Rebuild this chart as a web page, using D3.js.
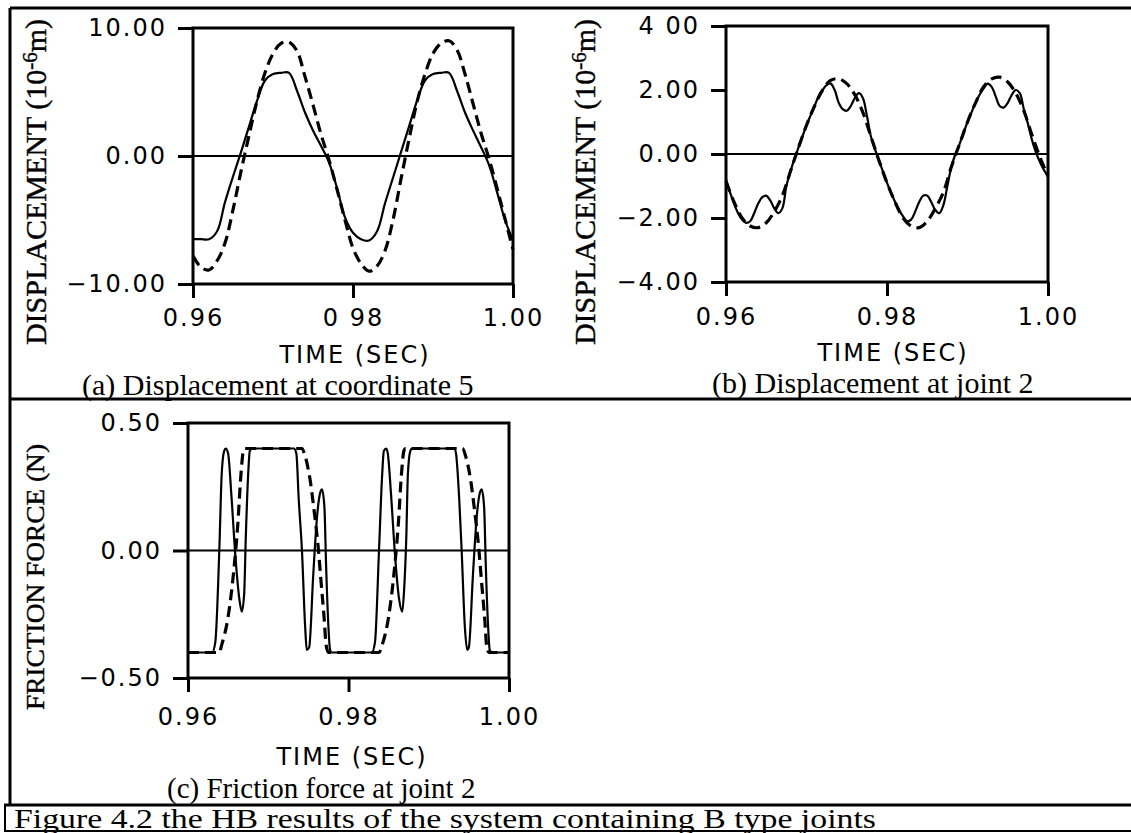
<!DOCTYPE html>
<html>
<head>
<meta charset="utf-8">
<script src="https://cdn.jsdelivr.net/npm/d3@7"></script>
<style>
  body { margin: 0; background: #fff; }
  svg { display: block; }
</style>
</head>
<body>
<svg id="fig" width="1131" height="833"></svg>
<script>
// ---- (a) displacement at coordinate 5, 10^-6 m ----
const timeA = [0.960,0.961,0.962,0.963,0.964,0.965,0.966,0.967,0.968,0.969,
               0.970,0.971,0.972,0.973,0.974,0.975,0.976,0.977,0.978,0.979,
               0.980,0.981,0.982,0.983,0.984,0.985,0.986,0.987,0.988,0.989,
               0.990,0.991,0.992,0.993,0.994,0.995,0.996,0.997,0.998,0.999,1.000];
const dispA_solid = [-6.5,-6.5,-6.5,-5.9,-3.6,-1.6,0.3,2.3,4.3,5.9,
                     6.4,6.5,6.5,5.1,3.4,2.0,0.8,-0.5,-2.5,-4.8,
                     -6.0,-6.5,-6.6,-5.9,-3.7,-1.7,0.3,2.3,4.3,5.9,
                     6.4,6.5,6.5,5.1,3.4,2.0,0.7,-0.7,-2.8,-5.0,-6.6];
const dispA_dashed = [-7.8,-8.7,-8.9,-8.2,-6.8,-4.2,-1.2,1.6,4.3,6.5,
                      8.0,8.8,8.9,8.2,6.2,4.0,1.7,-0.3,-2.6,-5.0,
                      -7.2,-8.4,-9.0,-8.6,-7.4,-5.0,-1.8,1.3,4.2,6.4,
                      8.0,8.8,9.0,8.3,6.4,4.1,1.8,-0.2,-2.5,-4.9,-7.3];
const yTicksA = [10, 0, -10];
const yLabelsA = ["10.00", "0.00", "\u221210.00"];

// ---- (b) displacement at joint 2, 10^-6 m ----
const timeB_dashed = timeA;
const dispB_dashed = [-0.85,-1.5,-2.0,-2.25,-2.3,-2.15,-1.8,-1.3,-0.55,0.2,
                      0.9,1.5,2.0,2.3,2.35,2.2,1.85,1.3,0.55,-0.2,
                      -0.9,-1.5,-2.0,-2.25,-2.3,-2.1,-1.7,-1.2,-0.4,0.3,
                      1.0,1.6,2.1,2.35,2.4,2.25,1.9,1.35,0.6,-0.1,-0.7];
const timeB_solid = [0.9600,0.9605,0.9610,0.9615,0.9620,0.9625,0.9630,0.9635,0.9640,0.9645,
                     0.9650,0.9655,0.9660,0.9665,0.9670,0.9675,0.9680,0.9685,0.9690,0.9695,
                     0.9700,0.9705,0.9710,0.9715,0.9720,0.9725,0.9730,0.9735,0.9740,0.9745,
                     0.9750,0.9755,0.9760,0.9765,0.9770,0.9775,0.9780,0.9785,0.9790,0.9795,
                     0.9800,0.9805,0.9810,0.9815,0.9820,0.9825,0.9830,0.9835,0.9840,0.9845,
                     0.9850,0.9855,0.9860,0.9865,0.9870,0.9875,0.9880,0.9885,0.9890,0.9895,
                     0.9900,0.9905,0.9910,0.9915,0.9920,0.9925,0.9930,0.9935,0.9940,0.9945,
                     0.9950,0.9955,0.9960,0.9965,0.9970,0.9975,0.9980,0.9985,0.9990,0.9995,1.0000];
const dispB_solid = [-0.8,-1.2,-1.55,-1.85,-2.05,-2.15,-2.1,-1.85,-1.55,-1.35,
                     -1.3,-1.45,-1.7,-1.85,-1.7,-1.0,-0.55,-0.15,0.2,0.55,
                     0.9,1.2,1.5,1.8,2.0,2.15,2.2,2.0,1.6,1.4,
                     1.35,1.5,1.75,1.9,1.75,1.2,0.55,0.15,-0.2,-0.55,
                     -0.9,-1.2,-1.5,-1.75,-1.95,-2.1,-2.05,-1.8,-1.5,-1.3,
                     -1.3,-1.5,-1.75,-1.85,-1.6,-1.0,-0.4,0.0,0.3,0.65,
                     1.0,1.3,1.6,1.85,2.05,2.2,2.1,1.8,1.5,1.45,
                     1.6,1.85,2.0,1.9,1.4,0.95,0.45,0.05,-0.25,-0.5,-0.7];
const yTicksB = [4, 2, 0, -2, -4];
const yLabelsB = ["4 00", "2.00", "0.00", "\u22122.00", "\u22124.00"];

// ---- (c) friction force at joint 2, N ----
const timeC_solid = [0.9600,0.9630,0.9634,0.9639,0.9642,0.9645,0.9647,0.9650,0.9654,0.9659,
                     0.9664,0.9667,0.9670,0.9672,0.9675,0.9677,0.9680,0.9732,0.9735,0.9738,
                     0.9742,0.9746,0.9748,0.9751,0.9756,0.9761,0.9765,0.9767,0.9770,0.9772,
                     0.9775,0.9777,0.9779,0.9829,0.9833,0.9838,0.9842,0.9844,0.9847,0.9849,
                     0.9853,0.9858,0.9863,0.9867,0.9869,0.9872,0.9874,0.9877,0.9879,0.9932,
                     0.9934,0.9938,0.9941,0.9945,0.9948,0.9950,0.9955,0.9960,0.9964,0.9966,
                     0.9969,0.9971,0.9974,0.9976,0.9979,1.0000];
const forceC_solid = [-0.40,-0.40,-0.36,0.00,0.30,0.39,0.40,0.38,0.22,-0.02,
                      -0.19,-0.24,-0.17,0.05,0.30,0.39,0.40,0.40,0.38,0.20,
                      0.00,-0.30,-0.39,-0.38,-0.10,0.14,0.23,0.24,0.17,-0.05,
                      -0.30,-0.39,-0.40,-0.40,-0.36,0.00,0.30,0.39,0.40,0.38,
                      0.22,-0.02,-0.19,-0.24,-0.17,0.05,0.30,0.39,0.40,0.40,
                      0.38,0.20,0.00,-0.30,-0.39,-0.38,-0.10,0.14,0.23,0.24,
                      0.17,-0.05,-0.30,-0.39,-0.40,-0.40];
const timeC_dashed = [0.9600,0.9639,0.9642,0.9650,0.9657,0.9662,0.9666,0.9669,0.9671,0.9742,
                      0.9746,0.9752,0.9757,0.9762,0.9766,0.9770,0.9772,0.9775,0.9838,0.9842,
                      0.9850,0.9857,0.9862,0.9866,0.9869,0.9871,0.9942,0.9946,0.9952,0.9957,
                      0.9962,0.9966,0.9970,0.9972,0.9975,1.0000];
const forceC_dashed = [-0.40,-0.40,-0.37,-0.26,-0.08,0.10,0.30,0.39,0.40,0.40,
                       0.37,0.28,0.16,0.02,-0.13,-0.28,-0.37,-0.40,-0.40,-0.37,
                       -0.26,-0.08,0.10,0.30,0.39,0.40,0.40,0.37,0.28,0.16,
                       0.02,-0.13,-0.28,-0.37,-0.40,-0.40];
const yTicksC = [0.5, 0, -0.5];
const yLabelsC = ["0.50", "0.00", "\u22120.50"];

// ---- shared time axis ----
const xTicks = [0.96, 0.98, 1.00];
const xLabelsA = ["0.96", "0 98", "1.00"];
const xLabelsB = ["0.96", "0.98", "1.00"];
const xLabelsC = ["0.96", "0.98", "1.00"];

const svg = d3.select("#fig");
const SANS = "'DejaVu Sans', sans-serif";
const SERIF = "'Liberation Serif', 'Times New Roman', serif";

// figure frame: outer border and row dividers
const frame = svg.append("g").attr("stroke", "#000").attr("fill", "none");
frame.append("line").attr("x1", 10).attr("x2", 1131).attr("y1", 8).attr("y2", 8).attr("stroke-width", 3);
frame.append("line").attr("x1", 10).attr("x2", 10).attr("y1", 8).attr("y2", 806).attr("stroke-width", 3);
frame.append("line").attr("x1", 9).attr("x2", 1131).attr("y1", 399).attr("y2", 399).attr("stroke-width", 3);
frame.append("line").attr("x1", 4).attr("x2", 1131).attr("y1", 805).attr("y2", 805).attr("stroke-width", 3);
frame.append("line").attr("x1", 5).attr("x2", 5).attr("y1", 805).attr("y2", 832).attr("stroke-width", 2);
frame.append("line").attr("x1", 4).attr("x2", 1131).attr("y1", 831).attr("y2", 831).attr("stroke-width", 2);

function panel(cfg) {
  const x = d3.scaleLinear().domain([0.96, 1.00]).range([cfg.left, cfg.right]);
  const y = d3.scaleLinear().domain(cfg.yDomain).range([cfg.bottom, cfg.top]);
  const g = svg.append("g");

  // y axis ticks and labels
  const ya = g.append("g")
    .attr("transform", `translate(${cfg.left},0)`)
    .call(d3.axisLeft(y).tickValues(cfg.yTicks).tickSize(15).tickPadding(11)
      .tickFormat((d, i) => cfg.yLabels[i]));
  // x axis ticks and labels
  const xa = g.append("g")
    .attr("transform", `translate(0,${cfg.bottom})`)
    .call(d3.axisBottom(x).tickValues(xTicks).tickSize(14).tickPadding(cfg.xPad)
      .tickFormat((d, i) => cfg.xLabels[i]));
  [ya, xa].forEach(a => {
    a.select(".domain").remove();
    a.selectAll(".tick line").attr("stroke", "#000").attr("stroke-width", 3);
    a.selectAll(".tick text")
      .attr("fill", "#000")
      .style("font-family", SANS)
      .style("font-size", "24px")
      .style("letter-spacing", "2px");
  });

  // zero reference line
  g.append("line")
    .attr("x1", cfg.left).attr("x2", cfg.right)
    .attr("y1", y(0)).attr("y2", y(0))
    .attr("stroke", "#000").attr("stroke-width", 2);

  // plot box
  g.append("rect")
    .attr("x", cfg.left).attr("y", cfg.top)
    .attr("width", cfg.right - cfg.left).attr("height", cfg.bottom - cfg.top)
    .attr("fill", "none").attr("stroke", "#000").attr("stroke-width", 3);

  // curves
  const line = d3.line().x(d => x(d[0])).y(d => y(d[1])).curve(cfg.curve);
  g.append("path")
    .datum(d3.zip(cfg.tSolid, cfg.vSolid))
    .attr("d", line)
    .attr("fill", "none").attr("stroke", "#000").attr("stroke-width", 2.2)
    .attr("stroke-linejoin", "round");
  g.append("path")
    .datum(d3.zip(cfg.tDashed, cfg.vDashed))
    .attr("d", line)
    .attr("fill", "none").attr("stroke", "#000").attr("stroke-width", 3.2)
    .attr("stroke-dasharray", "11,6");

  // axis titles
  g.append("text")
    .attr("x", cfg.timeX).attr("y", cfg.timeY)
    .attr("text-anchor", "middle")
    .style("font-family", SANS).style("font-size", "24px").style("letter-spacing", "2px")
    .text("TIME (SEC)");

  const yl = g.append("text")
    .attr("transform", `translate(${cfg.ylabX},${cfg.ylabY}) rotate(-90)`)
    .attr("text-anchor", "middle")
    .style("font-family", SERIF).style("font-size", cfg.ylabSize + "px")
    .attr("stroke", "#000").attr("stroke-width", 0.4);
  cfg.ylab(yl);

  // panel caption
  g.append("text")
    .attr("x", cfg.capX).attr("y", cfg.capY)
    .style("font-family", SERIF).style("font-size", cfg.capSize + "px")
    .text(cfg.caption);
}

function dispLabel(t) {
  t.append("tspan").text("DISPLACEMENT (10");
  t.append("tspan").attr("dy", -9).style("font-size", "21px").text("-6");
  t.append("tspan").attr("dy", 9).text("m)");
}

panel({
  left: 193, right: 513, top: 28, bottom: 284, yDomain: [-10, 10],
  yTicks: yTicksA, yLabels: yLabelsA, xLabels: xLabelsA, xPad: 11,
  tSolid: timeA, vSolid: dispA_solid, tDashed: timeA, vDashed: dispA_dashed,
  curve: d3.curveCatmullRom.alpha(0.5),
  timeX: 355, timeY: 363, ylabX: 46, ylabY: 182, ylabSize: 30, ylab: dispLabel,
  capX: 82, capY: 395, capSize: 30, caption: "(a) Displacement at coordinate 5"
});

panel({
  left: 726, right: 1048, top: 26, bottom: 282, yDomain: [-4, 4],
  yTicks: yTicksB, yLabels: yLabelsB, xLabels: xLabelsB, xPad: 12,
  tSolid: timeB_solid, vSolid: dispB_solid, tDashed: timeB_dashed, vDashed: dispB_dashed,
  curve: d3.curveCatmullRom.alpha(0.5),
  timeX: 893, timeY: 361, ylabX: 595, ylabY: 182, ylabSize: 30, ylab: dispLabel,
  capX: 712, capY: 393, capSize: 30, caption: "(b) Displacement at joint 2"
});

panel({
  left: 188, right: 509, top: 423, bottom: 678, yDomain: [-0.5, 0.5],
  yTicks: yTicksC, yLabels: yLabelsC, xLabels: xLabelsC, xPad: 16,
  tSolid: timeC_solid, vSolid: forceC_solid, tDashed: timeC_dashed, vDashed: forceC_dashed,
  curve: d3.curveMonotoneX,
  timeX: 352, timeY: 765, ylabX: 44, ylabY: 577, ylabSize: 25,
  ylab: t => t.attr("textLength", 266).attr("lengthAdjust", "spacingAndGlyphs").text("FRICTION FORCE (N)"),
  capX: 167, capY: 798, capSize: 29, caption: "(c) Friction force at joint 2"
});

// figure caption
svg.append("text")
  .attr("x", 14).attr("y", 828)
  .attr("textLength", 862).attr("lengthAdjust", "spacingAndGlyphs")
  .style("font-family", SERIF).style("font-size", "27px")
  .text("Figure 4.2 the HB results of the system containing B type joints");
</script>
</body>
</html>
